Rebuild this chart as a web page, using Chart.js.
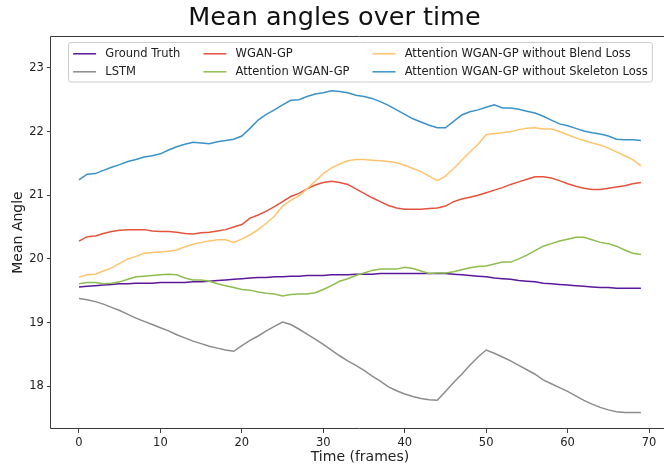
<!DOCTYPE html>
<html><head><meta charset="utf-8">
<script src="https://cdn.jsdelivr.net/npm/chart.js@4.4.1/dist/chart.umd.min.js"></script>
<style>
html,body{margin:0;padding:0;background:#fff;overflow:hidden;width:664px;height:468px}
#wrap{position:relative;width:720px;height:468px}
canvas{display:block}
</style></head><body>
<div id="wrap"><canvas id="c" width="720" height="468"></canvas></div>
<script>
const frames = [0,1,2,3,4,5,6,7,8,9,10,11,12,13,14,15,16,17,18,19,20,21,22,23,24,25,26,27,28,29,30,31,32,33,34,35,36,37,38,39,40,41,42,43,44,45,46,47,48,49,50,51,52,53,54,55,56,57,58,59,60,61,62,63,64,65,66,67,68,69];

const seriesNames = ["Ground Truth","LSTM","WGAN-GP","Attention WGAN-GP","Attention WGAN-GP without Blend Loss","Attention WGAN-GP without Skeleton Loss"];

const groundTruth = [19.56,19.57,19.58,19.59,19.60,19.61,19.61,19.62,19.62,19.62,19.63,19.63,19.63,19.63,19.64,19.64,19.65,19.66,19.67,19.68,19.69,19.70,19.71,19.71,19.72,19.72,19.73,19.73,19.74,19.74,19.74,19.75,19.75,19.75,19.76,19.76,19.76,19.77,19.77,19.77,19.77,19.77,19.77,19.77,19.77,19.77,19.76,19.75,19.74,19.73,19.72,19.70,19.69,19.68,19.66,19.65,19.64,19.62,19.61,19.60,19.59,19.58,19.57,19.56,19.55,19.55,19.54,19.54,19.54,19.54];

const lstm = [19.38,19.36,19.33,19.29,19.24,19.19,19.13,19.07,19.02,18.97,18.92,18.87,18.81,18.76,18.71,18.67,18.63,18.60,18.57,18.55,18.64,18.72,18.79,18.87,18.94,19.01,18.97,18.90,18.82,18.74,18.66,18.57,18.48,18.40,18.33,18.25,18.16,18.08,17.99,17.93,17.88,17.84,17.81,17.79,17.78,17.92,18.06,18.19,18.33,18.46,18.57,18.52,18.46,18.40,18.33,18.26,18.19,18.10,18.04,17.98,17.92,17.85,17.78,17.72,17.67,17.63,17.60,17.59,17.59,17.59];

const wganGp = [20.28,20.35,20.36,20.40,20.43,20.45,20.46,20.46,20.46,20.44,20.43,20.43,20.42,20.40,20.39,20.41,20.42,20.44,20.46,20.50,20.54,20.64,20.69,20.75,20.82,20.90,20.98,21.03,21.10,21.16,21.20,21.22,21.20,21.17,21.10,21.03,20.96,20.90,20.84,20.80,20.78,20.78,20.78,20.79,20.80,20.83,20.90,20.94,20.97,21.00,21.04,21.08,21.12,21.17,21.21,21.25,21.29,21.29,21.27,21.23,21.18,21.14,21.11,21.09,21.09,21.11,21.13,21.15,21.18,21.20];

const attentionWganGp = [19.61,19.63,19.63,19.61,19.62,19.64,19.68,19.72,19.73,19.74,19.75,19.76,19.75,19.70,19.67,19.67,19.65,19.61,19.58,19.55,19.52,19.51,19.48,19.46,19.45,19.42,19.44,19.45,19.45,19.47,19.52,19.58,19.65,19.69,19.74,19.78,19.82,19.84,19.84,19.84,19.87,19.85,19.81,19.77,19.78,19.78,19.80,19.83,19.86,19.88,19.89,19.92,19.95,19.95,20.00,20.06,20.13,20.20,20.24,20.28,20.31,20.34,20.34,20.30,20.26,20.24,20.20,20.14,20.09,20.07];

const noBlendLoss = [19.71,19.75,19.76,19.81,19.86,19.93,20.00,20.04,20.09,20.10,20.11,20.12,20.14,20.19,20.23,20.26,20.28,20.30,20.30,20.26,20.31,20.38,20.46,20.56,20.67,20.83,20.92,20.99,21.10,21.22,21.34,21.43,21.49,21.54,21.56,21.56,21.55,21.54,21.53,21.51,21.47,21.42,21.37,21.30,21.23,21.30,21.42,21.55,21.68,21.80,21.95,21.97,21.98,22.00,22.03,22.05,22.06,22.04,22.04,22.00,21.95,21.90,21.86,21.82,21.79,21.74,21.68,21.62,21.56,21.46];

const noSkeletonLoss = [21.24,21.33,21.34,21.39,21.44,21.48,21.53,21.56,21.60,21.62,21.65,21.71,21.76,21.80,21.83,21.82,21.81,21.84,21.86,21.88,21.93,22.05,22.18,22.27,22.34,22.42,22.49,22.50,22.55,22.59,22.61,22.64,22.63,22.61,22.57,22.55,22.52,22.47,22.41,22.34,22.27,22.20,22.15,22.10,22.06,22.06,22.16,22.26,22.31,22.34,22.38,22.42,22.37,22.37,22.35,22.32,22.29,22.24,22.18,22.12,22.09,22.05,22.01,21.98,21.96,21.93,21.88,21.87,21.87,21.86];

const xTickValues = [0,10,20,30,40,50,60,70];
const yTickValues = [18,19,20,21,22,23];

const seriesValues = [groundTruth, lstm, wganGp, attentionWganGp, noBlendLoss, noSkeletonLoss];
const seriesColors = ["#5a189a","#8c8c8c","#e5533c","#8dbd4e","#fec46d","#3a92c8"];

Chart.defaults.font.family = "'DejaVu Sans', sans-serif";
Chart.defaults.color = "#222";

const frameAndLegend = {
  id: 'frameAndLegend',
  afterDatasetsDraw(chart) {
    const ctx = chart.ctx, a = chart.chartArea;
    ctx.save();
    ctx.strokeStyle = '#3a3a3a';
    ctx.lineWidth = 1;
    const L = Math.floor(a.left) + 0.5, T = Math.round(a.top) + 0.5, B = Math.round(a.bottom) - 0.5, R = Math.round(a.right) - 0.5;
    ctx.beginPath();
    ctx.moveTo(R, T); ctx.lineTo(L, T); ctx.lineTo(L, B); ctx.lineTo(R, B);
    ctx.stroke();
    const fs = 11.5;
    ctx.font = fs + "px 'DejaVu Sans'";
    const ds = chart.data.datasets;
    const ncol = 3, nrow = 2;
    const pad = 0.4 * fs, hl = 2 * fs, htp = 0.8 * fs, csp = 2 * fs;
    const colW = [];
    for (let c = 0; c < ncol; c++) {
      let m = 0;
      for (let r = 0; r < nrow; r++) {
        const d = ds[c * nrow + r];
        if (d) m = Math.max(m, ctx.measureText(d.label).width);
      }
      colW.push(hl + htp + m);
    }
    const boxW = 2 * pad + colW.reduce((s, v) => s + v, 0) + (ncol - 1) * csp;
    const boxH = 39.5;
    const cx = (a.left + a.right) / 2;
    const bx = Math.round(cx - boxW / 2) + 0.5, by = Math.round(a.top + 0.5 * fs) + 0.5;
    ctx.beginPath();
    if (ctx.roundRect) ctx.roundRect(bx, by, boxW, boxH, 2.5); else ctx.rect(bx, by, boxW, boxH);
    ctx.fillStyle = 'rgba(255,255,255,0.8)';
    ctx.fill();
    ctx.strokeStyle = '#cccccc';
    ctx.stroke();
    const rowY = [by + 11.3, by + 29.3];
    let x = bx + pad;
    for (let c = 0; c < ncol; c++) {
      for (let r = 0; r < nrow; r++) {
        const d = ds[c * nrow + r];
        if (!d) continue;
        const y = rowY[r];
        ctx.strokeStyle = d.borderColor;
        ctx.lineWidth = 1.5;
        ctx.beginPath();
        ctx.moveTo(x, y); ctx.lineTo(x + hl, y);
        ctx.stroke();
        ctx.fillStyle = '#222';
        ctx.textBaseline = 'middle';
        ctx.textAlign = 'left';
        ctx.fillText(d.label, x + hl + htp, y + 0.5);
      }
      x += colW[c] + csp;
    }
    ctx.restore();
  }
};

new Chart(document.getElementById('c').getContext('2d'), {
  type: 'line',
  data: {
    labels: frames,
    datasets: seriesNames.map((name, i) => ({
      label: name,
      data: seriesValues[i],
      borderColor: seriesColors[i],
      backgroundColor: seriesColors[i],
      borderWidth: 1.5,
      pointRadius: 0,
      tension: 0,
      fill: false,
      order: seriesNames.length - i
    }))
  },
  options: {
    responsive: false,
    animation: false,
    devicePixelRatio: 1,
    layout: { padding: { left: 0, right: 51, top: 0, bottom: 0 } },
    plugins: {
      legend: { display: false },
      tooltip: { enabled: false },
      title: {
        display: true,
        text: 'Mean angles over time',
        color: '#111',
        font: { size: 25.5, weight: 'normal', lineHeight: 1.2 },
        padding: { top: 3.3, bottom: 2.1 }
      }
    },
    scales: {
      x: {
        type: 'linear',
        min: -3.45,
        max: 72.45,
        afterBuildTicks: s => { s.ticks = xTickValues.map(v => ({ value: v })); },
        afterFit: s => { s.height = 39; },
        grid: { drawOnChartArea: false, drawTicks: true, tickLength: 4, color: '#444' },
        border: { display: false },
        ticks: { font: { size: 11.5 }, padding: 3, color: '#222', maxRotation: 0, autoSkip: false },
        title: { display: true, text: 'Time (frames)', color: '#222', font: { size: 14 }, padding: { top: 0, bottom: 2 } }
      },
      y: {
        min: 17.33,
        max: 23.5,
        afterBuildTicks: s => { s.ticks = yTickValues.map(v => ({ value: v })); },
        afterFit: s => { s.width = 50.9; },
        grid: { drawOnChartArea: false, drawTicks: true, tickLength: 4, color: '#444' },
        border: { display: false },
        ticks: { font: { size: 11.5 }, padding: 3, color: '#222', autoSkip: false },
        title: { display: true, text: 'Mean Angle', color: '#222', font: { size: 14 }, padding: { top: 9.6, bottom: 0 } }
      }
    }
  },
  plugins: [frameAndLegend]
});
</script>
</body></html>
